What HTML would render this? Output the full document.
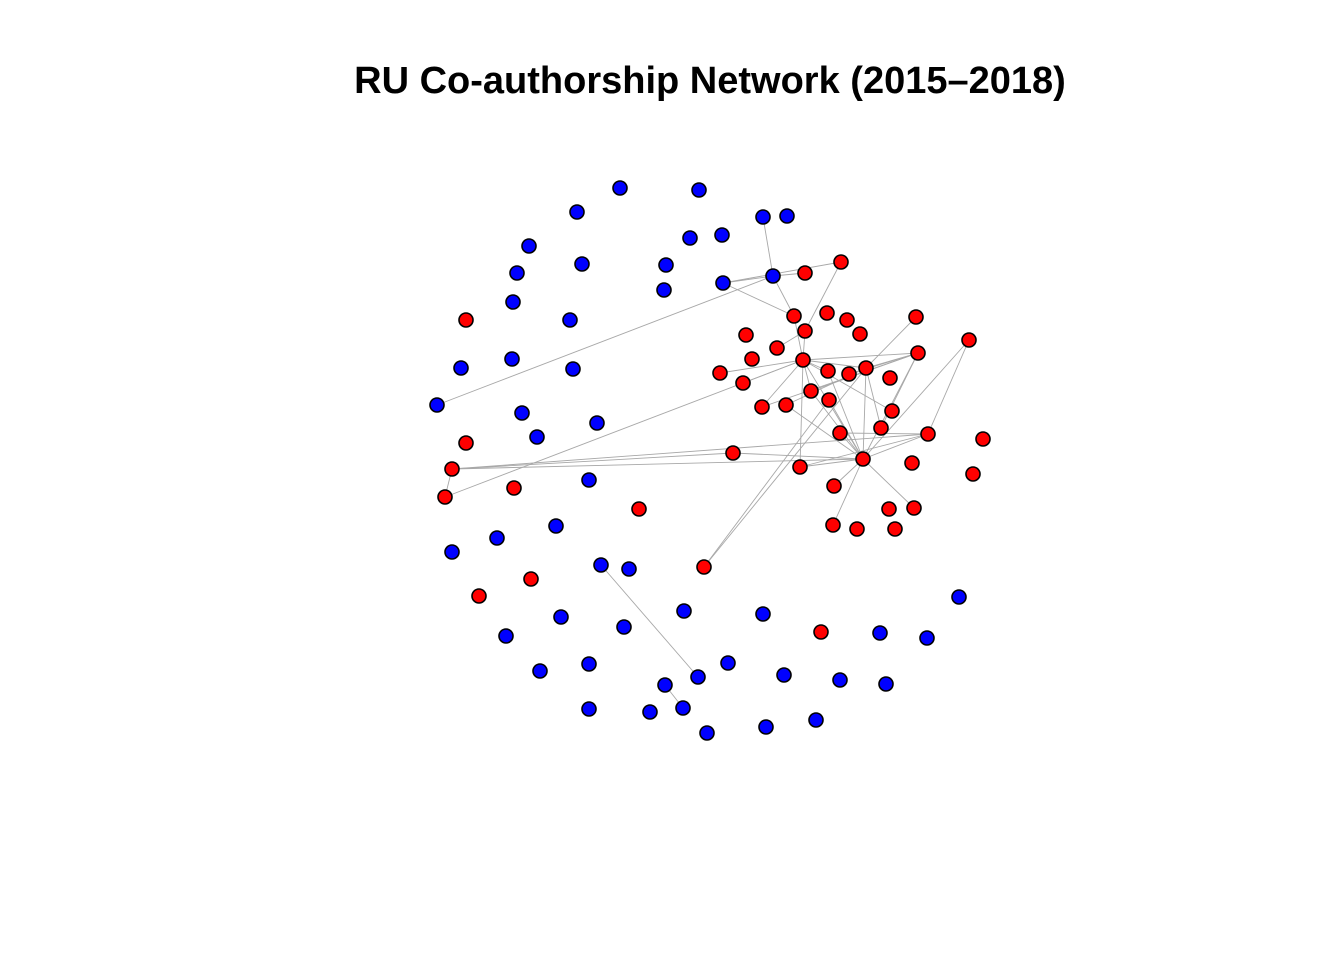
<!DOCTYPE html>
<html><head><meta charset="utf-8"><style>
html,body{margin:0;padding:0;background:#fff;width:1344px;height:960px;overflow:hidden}
</style></head><body>
<svg width="1344" height="960" xmlns="http://www.w3.org/2000/svg">
<text x="710" y="93" text-anchor="middle" font-family="Liberation Sans, sans-serif" font-weight="bold" font-size="38">RU Co-authorship Network (2015–2018)</text>
<g id="edges"></g>
<g id="nodes"></g>
</svg>
<script>
const blueNodes=[[620,188],[699,190],[577,212],[763,217],[787,216],[529,246],[690,238],[722,235],[517,273],[582,264],[666,265],[664,290],[723,283],[773,276],[513,302],[570,320],[461,368],[512,359],[573,369],[437,405],[522,413],[537,437],[597,423],[589,480],[556,526],[497,538],[452,552],[601,565],[629,569],[959,597],[506,636],[561,617],[624,627],[684,611],[763,614],[880,633],[927,638],[540,671],[589,664],[728,663],[698,677],[665,685],[784,675],[840,680],[886,684],[589,709],[650,712],[683,708],[707,733],[766,727],[816,720]];
const redNodes=[[466,320],[805,273],[841,262],[794,316],[827,313],[847,320],[860,334],[916,317],[969,340],[746,335],[805,331],[777,348],[752,359],[803,360],[918,353],[720,373],[743,383],[828,371],[849,374],[866,368],[890,378],[811,391],[829,400],[762,407],[786,405],[892,411],[881,428],[840,433],[928,434],[983,439],[466,443],[452,469],[733,453],[800,467],[863,459],[912,463],[973,474],[445,497],[514,488],[834,486],[639,509],[889,509],[914,508],[833,525],[857,529],[895,529],[704,567],[531,579],[479,596],[821,632]];
const edgeList=[[[763,217],[773,276]],[[723,283],[773,276]],[[723,283],[841,262]],[[773,276],[805,273]],[[773,276],[794,316]],[[723,283],[794,316]],[[437,405],[773,276]],[[841,262],[805,331]],[[805,331],[803,360]],[[794,316],[803,360]],[[777,348],[805,331]],
[[803,360],[720,373]],[[803,360],[743,383]],[[803,360],[918,353]],[[803,360],[828,371]],[[803,360],[866,368]],[[803,360],[762,407]],[[803,360],[863,459]],[[803,360],[800,467]],[[803,360],[811,391]],[[803,360],[892,411]],[[445,497],[803,360]],
[[452,469],[863,459]],[[452,469],[928,434]],[[452,469],[733,453]],[[452,469],[445,497]],[[733,453],[863,459]],
[[918,353],[866,368]],[[918,353],[849,374]],[[918,353],[811,391]],[[918,353],[762,407]],[[918,353],[863,459]],[[918,353],[881,428]],[[916,317],[866,368]],[[969,340],[928,434]],[[969,340],[863,459]],
[[863,459],[828,371]],[[863,459],[829,400]],[[863,459],[866,368]],[[863,459],[928,434]],[[863,459],[914,508]],[[863,459],[833,525]],[[863,459],[834,486]],[[863,459],[800,467]],[[863,459],[840,433]],[[863,459],[811,391]],[[863,459],[786,405]],
[[704,567],[829,400]],[[704,567],[866,368]],[[601,565],[698,677]],[[665,685],[683,708]],[[800,467],[928,434]],[[786,405],[866,368]],[[840,433],[928,434]],[[881,428],[866,368]]];
const ns='http://www.w3.org/2000/svg';
const eg=document.getElementById('edges'),ng=document.getElementById('nodes');
edgeList.forEach(e=>{const l=document.createElementNS(ns,'line');
l.setAttribute('x1',e[0][0]);l.setAttribute('y1',e[0][1]);l.setAttribute('x2',e[1][0]);l.setAttribute('y2',e[1][1]);
l.setAttribute('stroke','#a8a8a8');l.setAttribute('stroke-width','0.9');


eg.appendChild(l);});
function drawNodes(arr,color,name){arr.forEach(p=>{const c=document.createElementNS(ns,'circle');
c.setAttribute('cx',p[0]);c.setAttribute('cy',p[1]);c.setAttribute('r','7');c.setAttribute('fill',color);c.setAttribute('stroke','#000');c.setAttribute('stroke-width','1.6');


ng.appendChild(c);});}
drawNodes(blueNodes,'#0000ff','blue-node');
drawNodes(redNodes,'#ff0000','red-node');
</script>
</body></html>
